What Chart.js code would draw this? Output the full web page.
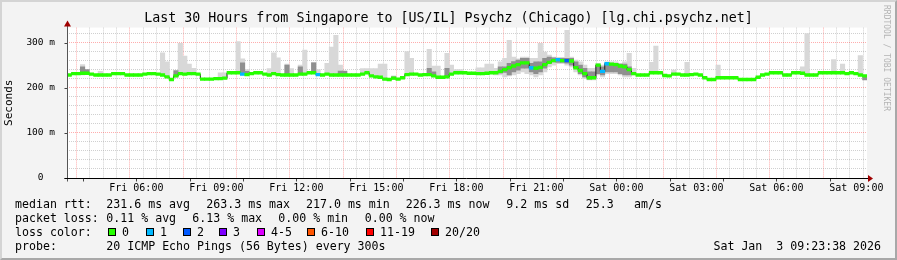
<!DOCTYPE html>
<html>
<head>
<meta charset="utf-8">
<script src="https://cdn.jsdelivr.net/npm/chart.js@4.4.1/dist/chart.umd.min.js"></script>
<style>
  html, body { margin: 0; padding: 0; }
  body {
    width: 897px; height: 260px; position: relative; overflow: hidden;
    background: #f3f3f3; font-family: "DejaVu Sans Mono", monospace;
  }
  #frame {
    position: absolute; left: 0; top: 0; width: 893px; height: 256px;
    border-top: 2px solid #d4d4d4; border-left: 2px solid #d4d4d4;
    border-right: 2px solid #a8a8a8; border-bottom: 2px solid #a8a8a8;
  }
  canvas { position: absolute; left: 0; top: 0; }
  #title {
    position: absolute; left: 0; width: 897px; top: 10px; text-align: center;
    font-size: 13.3px; line-height: 16px; white-space: pre; color: #000;
  }
  .t { position: absolute; font-size: 11.6px; line-height: 14px; white-space: pre; color: #000; }
  .box { position: absolute; width: 6px; height: 6px; border: 1px solid #000; }
  #credit {
    position: absolute; left: 882px; top: 5px; writing-mode: vertical-rl;
    font-size: 8px; line-height: 9px; color: #b4b4b4; white-space: pre;
  }
</style>
</head>
<body>
<div id="frame"></div>
<canvas id="smoke" width="897" height="260"></canvas>
<div id="title">Last 30 Hours from Singapore to [US/IL] Psychz (Chicago) [lg.chi.psychz.net]</div>
<div id="credit">RRDTOOL / TOBI OETIKER</div>
<div id="legend"></div>

<script>
// ---- data (10 minute steps) ----
const startHour = 3.4;          // Fri 03:24, hours after Fri 00:00
const stepHours = 1 / 6;

const median = [
  228, 231, 231, 232, 232, 230, 228, 228, 228, 228,
  231, 231, 231, 228, 228, 228, 228, 230, 231, 231,
  230, 228, 224, 218, 226, 231, 230, 231, 231, 230,
  219, 219, 219, 220, 220, 221, 233, 233, 233, 230,
  229, 231, 233, 233, 230, 228, 231, 229, 228, 228,
  228, 228, 230, 230, 233, 233, 229, 228, 230, 228,
  228, 228, 228, 228, 228, 228, 230, 233, 226, 224,
  223, 219, 218, 221, 219, 222, 229, 230, 230, 228,
  229, 229, 226, 223, 223, 224, 230, 233, 233, 233,
  232, 232, 231, 231, 232, 233, 233, 236, 240, 244,
  248, 251, 255, 255, 244, 243, 245, 251, 256, 260,
  262, 260, 260, 259, 244, 238, 231, 222, 222, 250,
  236, 253, 252, 251, 248, 246, 240, 231, 228, 228,
  228, 233, 233, 233, 227, 226, 230, 230, 228, 228,
  229, 230, 228, 222, 218, 218, 222, 222, 222, 222,
  222, 218, 218, 218, 218, 223, 228, 230, 233, 233,
  233, 228, 228, 233, 233, 232, 228, 228, 228, 233,
  233, 233, 233, 233, 233, 231, 233, 231, 228, 226
];

// steps where pings were lost, and how many of 20
const lossSteps  = [39, 56, 104, 110, 112, 120, 121];
const lossCounts = [1, 1, 1, 1, 2, 1, 1];

// light smoke (spread of the 20 pings)
const smokeSteps = [3, 7, 21, 22, 25, 26, 27, 28, 34, 35, 38, 39, 40, 42, 43, 45, 46, 47,
  49, 50, 52, 53, 55, 56, 58, 59, 60, 61, 66, 67, 68, 69, 70, 71, 73, 76, 77, 81, 82, 83,
  85, 86, 87, 88, 92, 93, 94, 95, 96, 97, 98, 99, 100, 101, 102, 103, 104, 105, 106, 107,
  108, 109, 110, 111, 112, 113, 114, 115, 116, 117, 118, 119, 120, 121, 122, 123, 124, 125,
  126, 127, 131, 132, 136, 139, 146, 165, 166, 172, 174, 178];
const smokeTop = [251, 236, 277, 257, 298, 270, 252, 243, 233, 233, 302, 264, 240, 236, 236, 242, 277, 266,
  252, 242, 250, 283, 256, 240, 254, 290, 316, 250, 242, 242, 242, 242, 252, 252, 226, 280, 265, 285, 248, 248,
  276, 250, 240, 240, 244, 244, 252, 252, 243, 257, 265, 305, 268, 264, 268, 268, 265, 265, 298, 279,
  272, 268, 267, 267, 327, 268, 261, 257, 250, 243, 243, 254, 250, 257, 257, 257, 254, 257,
  276, 243, 256, 292, 239, 256, 250, 246, 320, 262, 252, 271];
const smokeBottom = [228, 226, 226, 222, 229, 228, 229, 229, 218, 219, 231, 228, 227, 231, 231, 226, 229, 227,
  226, 226, 228, 228, 231, 227, 228, 226, 226, 226, 228, 231, 224, 222, 221, 217, 219, 227, 228, 227, 224, 221,
  222, 228, 231, 231, 229, 229, 230, 231, 228, 228, 224, 226, 228, 231, 235, 231, 228, 224, 228, 235,
  246, 250, 253, 253, 250, 246, 235, 228, 220, 217, 217, 228, 224, 231, 231, 231, 228, 224,
  224, 228, 231, 231, 229, 227, 221, 231, 227, 232, 231, 227];

// dense smoke close to the median
const coreSteps = [3, 4, 24, 39, 40, 49, 52, 55, 61, 62, 73, 81, 82, 85,
  97, 98, 99, 100, 101, 102, 103, 104, 105, 106, 107, 108, 109, 110, 111, 112, 113, 114, 115, 116,
  117, 118, 119, 120, 121, 122, 123, 124, 125, 126, 179];
const coreTop = [246, 240, 238, 255, 236, 250, 246, 255, 237, 237, 224, 243, 235, 243,
  246, 246, 254, 258, 261, 265, 265, 254, 257, 257, 265, 268, 266, 265, 265, 265, 265, 257, 250, 243,
  235, 235, 250, 246, 254, 254, 254, 252, 252, 246, 226];
const coreBottom = [230, 231, 224, 229, 229, 228, 229, 232, 227, 227, 219, 228, 225, 224,
  232, 234, 228, 235, 239, 243, 243, 235, 231, 235, 243, 254, 257, 256, 256, 254, 250, 243, 231, 224,
  219, 220, 231, 228, 235, 235, 235, 231, 228, 228, 217];

const xTickHours  = [6, 9, 12, 15, 18, 21, 24, 27, 30, 33];
const xTickLabels = ["Fri 06:00", "Fri 09:00", "Fri 12:00", "Fri 15:00", "Fri 18:00",
  "Fri 21:00", "Sat 00:00", "Sat 03:00", "Sat 06:00", "Sat 09:00"];
const yTickValues = [0, 100, 200, 300];
const yTickLabels = ["0  ", "100 m", "200 m", "300 m"];

const lossLabels = ["0", "1", "2", "3", "4-5", "6-10", "11-19", "20/20"];
const lossColors = ["#26ff00", "#00b8ff", "#0059ff", "#7e00ff", "#dd00ff", "#ff5500", "#ff0000", "#a10000"];

// ---- helpers ----
const MONO = "'DejaVu Sans Mono', monospace";
const MAJOR = "rgba(255,0,0,0.32)";
const MINOR = "rgba(150,150,150,0.45)";
const bandHalf = 3;

function colorIndex(n) {
  if (n <= 3) return n;
  if (n <= 5) return 4;
  if (n <= 10) return 5;
  if (n <= 19) return 6;
  return 7;
}
const stepStart = (k) => startHour + k * stepHours;
const stepMid = (k) => stepStart(k) + stepHours / 2;

const lossBars = median.map((v, k) => ({ x: stepMid(k), y: [v - bandHalf, v + bandHalf] }));
const lossOf = (k) => { const i = lossSteps.indexOf(k); return i < 0 ? 0 : lossCounts[i]; };
const medianPts = median.map((v, k) => ({ x: stepStart(k), y: v }));
medianPts.push({ x: stepStart(median.length), y: median[median.length - 1] });
const smokeBars = smokeSteps.map((k, i) => ({ x: stepMid(k), y: [smokeBottom[i], smokeTop[i]] }));
const coreBars = coreSteps.map((k, i) => ({ x: stepMid(k), y: [coreBottom[i], coreTop[i]] }));

// white canvas + axis lines with arrows, like rrdtool
const rrdFrame = {
  id: "rrdFrame",
  beforeDraw(chart) {
    const { ctx, chartArea: a } = chart;
    ctx.save();
    ctx.fillStyle = "#ffffff";
    ctx.fillRect(a.left, a.top, a.right - a.left, a.bottom - a.top);
    ctx.restore();
  },
  afterDraw(chart) {
    const { ctx, chartArea: a, scales } = chart;
    const yb = Math.round(a.bottom) + 0.5;
    const xl = Math.round(a.left) + 0.5;
    ctx.save();
    ctx.lineWidth = 1;
    // ticks
    ctx.strokeStyle = "#444";
    ctx.beginPath();
    scales.x.ticks.forEach((t) => {
      if (t.value % 2 === 0) {
        const px = Math.round(scales.x.getPixelForValue(t.value)) + 0.5;
        ctx.moveTo(px, yb); ctx.lineTo(px, yb + 3);
      }
    });
    yTickValues.forEach((v) => {
      const py = Math.round(scales.y.getPixelForValue(v)) + 0.5;
      ctx.moveTo(xl - 3, py); ctx.lineTo(xl, py);
    });
    ctx.stroke();
    // y axis
    ctx.strokeStyle = "#555";
    ctx.beginPath(); ctx.moveTo(xl, yb + 3); ctx.lineTo(xl, a.top - 5); ctx.stroke();
    // x axis
    ctx.strokeStyle = "#000";
    ctx.beginPath(); ctx.moveTo(xl - 3, yb); ctx.lineTo(a.right + 1, yb); ctx.stroke();
    // arrows
    ctx.fillStyle = "#a00000";
    ctx.beginPath();
    ctx.moveTo(a.right + 1, yb - 3.5); ctx.lineTo(a.right + 6, yb); ctx.lineTo(a.right + 1, yb + 3.5);
    ctx.closePath(); ctx.fill();
    ctx.beginPath();
    ctx.moveTo(xl - 3.5, a.top - 1); ctx.lineTo(xl, a.top - 7); ctx.lineTo(xl + 3.5, a.top - 1);
    ctx.closePath(); ctx.fill();
    ctx.restore();
  }
};

new Chart(document.getElementById("smoke"), {
  type: "bar",
  data: {
    datasets: [
      {
        label: "median",
        data: lossBars,
        backgroundColor: (c) => lossColors[colorIndex(lossOf(c.dataIndex))],
        grouped: false, barPercentage: 1, categoryPercentage: 1, borderWidth: 0
      },
      {
        type: "line",
        label: "median line",
        data: medianPts,
        stepped: true,
        borderColor: "#202020",
        borderWidth: 1,
        pointRadius: 0,
        fill: false
      },
      {
        label: "smoke core",
        data: coreBars,
        backgroundColor: "#8f8f8f",
        grouped: false, barPercentage: 1, categoryPercentage: 1, borderWidth: 0
      },
      {
        label: "smoke",
        data: smokeBars,
        backgroundColor: "#d8d8d8",
        grouped: false, barPercentage: 1, categoryPercentage: 1, borderWidth: 0
      }
    ]
  },
  options: {
    responsive: false,
    animation: false,
    layout: { padding: { left: 0, right: 30, top: 27.6, bottom: 60 } },
    plugins: {
      legend: { display: false },
      tooltip: { enabled: false },
      title: { display: false }
    },
    scales: {
      x: {
        type: "linear",
        offset: false,
        min: startHour,
        max: startHour + 30,
        afterBuildTicks: (s) => {
          const ticks = [];
          for (let h = Math.ceil(s.min * 2) / 2; h <= s.max; h += 0.5) ticks.push({ value: h });
          s.ticks = ticks;
        },
        afterFit: (s) => { s.height = 22; },
        ticks: {
          autoSkip: false, maxRotation: 0, minRotation: 0, padding: 4,
          color: "#000",
          font: { family: MONO, size: 10 },
          callback: (v) => { const i = xTickHours.indexOf(v); return i < 0 ? "" : xTickLabels[i]; }
        },
        grid: {
          drawTicks: false,
          color: (c) => (c.tick && c.tick.value % 2 === 0 ? MAJOR : MINOR)
        },
        border: { display: false, dash: [1, 1] }
      },
      y: {
        min: 0,
        max: 333,
        afterBuildTicks: (s) => {
          const ticks = [];
          for (let v = 0; v <= 320; v += 20) ticks.push({ value: v });
          s.ticks = ticks;
        },
        afterFit: (s) => { s.width = 67; },
        ticks: {
          autoSkip: false,
          padding: 12,
          color: "#000",
          font: { family: MONO, size: 9.5 },
          callback: (v) => { const i = yTickValues.indexOf(v); return i < 0 ? "" : yTickLabels[i]; }
        },
        grid: {
          drawTicks: false,
          color: (c) => (c.tick && c.tick.value % 100 === 0 ? MAJOR : MINOR)
        },
        border: { display: false, dash: [1, 1] },
        title: {
          display: true,
          text: "Seconds",
          color: "#000",
          font: { family: MONO, size: 11 },
          padding: { top: 3, bottom: 0 }
        }
      }
    }
  },
  plugins: [rrdFrame]
});

// ---- rrdtool style legend below the graph ----
const legend = document.getElementById("legend");
function put(x, top, text) {
  const d = document.createElement("div");
  d.className = "t";
  d.style.left = x + "px";
  d.style.top = top + "px";
  d.textContent = text;
  legend.appendChild(d);
  return d;
}
put(15, 197, "median rtt:");
put(106.3, 197, "231.6 ms avg");
put(206.3, 197, "263.3 ms max");
put(306, 197, "217.0 ms min");
put(405.7, 197, "226.3 ms now");
put(506.3, 197, "9.2 ms sd");
put(585.7, 197, "25.3");
put(634, 197, "am/s");

put(15, 211, "packet loss:");
put(106.3, 211, "0.11 % avg");
put(192.3, 211, "6.13 % max");
put(278.3, 211, "0.00 % min");
put(364.7, 211, "0.00 % now");

put(15, 225, "loss color:");
const boxX = [108, 146, 183, 219, 257, 307, 366, 431];
lossLabels.forEach((lab, i) => {
  const b = document.createElement("div");
  b.className = "box";
  b.style.left = boxX[i] + "px";
  b.style.top = "228px";
  b.style.background = lossColors[i];
  legend.appendChild(b);
  put(boxX[i] + 14, 225, lab);
});

put(15, 239, "probe:");
put(106.3, 239, "20 ICMP Echo Pings (56 Bytes) every 300s");
const stamp = put(0, 239, "Sat Jan  3 09:23:38 2026");
stamp.style.left = "auto";
stamp.style.right = "16px";
</script>
</body>
</html>
